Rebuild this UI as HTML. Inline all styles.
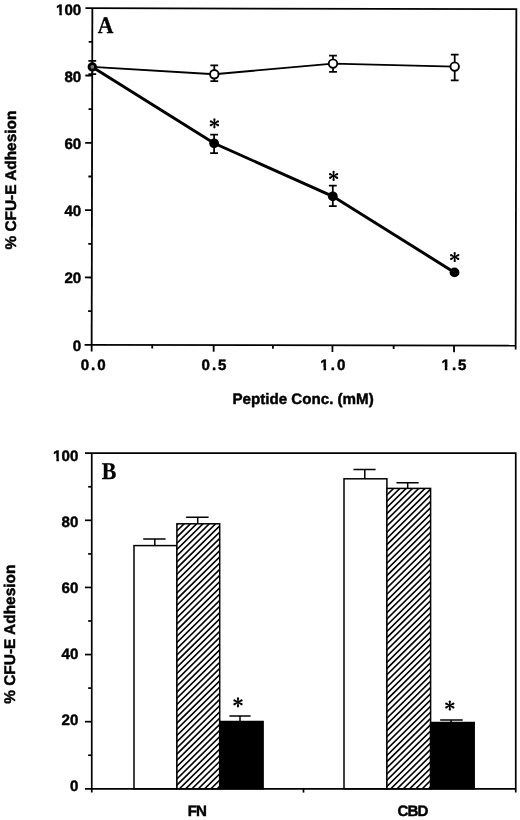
<!DOCTYPE html>
<html><head><meta charset="utf-8"><title>Figure</title>
<style>html,body{margin:0;padding:0;background:#fff;}svg{display:block;}text{font-family:"Liberation Sans",sans-serif;font-weight:bold;fill:#000;stroke:#000;stroke-width:0.45px;stroke-linejoin:round;text-rendering:geometricPrecision;}.ser{font-family:"Liberation Serif",serif;font-weight:bold;stroke-width:0.3px;}.ast{font-family:"Liberation Serif",serif;font-weight:normal;}</style></head><body>
<svg width="520" height="820" viewBox="0 0 520 820">
<defs><pattern id="hatch" width="3.56" height="3.56" patternUnits="userSpaceOnUse" patternTransform="rotate(-41.3)"><rect x="0" y="0" width="3.56" height="3.56" fill="#fff"/><rect x="0" y="0" width="3.56" height="1.7" fill="#000"/></pattern></defs>
<defs><g id="ast" fill="#000" stroke="none"><path d="M-0.5 0 L-1.0 -3.4 A1.15 1.15 0 1 1 1.0 -3.4 L0.5 0 Z" transform="rotate(0)"/><path d="M-0.5 0 L-1.0 -3.4 A1.15 1.15 0 1 1 1.0 -3.4 L0.5 0 Z" transform="rotate(62)"/><path d="M-0.5 0 L-1.0 -3.4 A1.15 1.15 0 1 1 1.0 -3.4 L0.5 0 Z" transform="rotate(118)"/><path d="M-0.5 0 L-1.0 -3.4 A1.15 1.15 0 1 1 1.0 -3.4 L0.5 0 Z" transform="rotate(180)"/><path d="M-0.5 0 L-1.0 -3.4 A1.15 1.15 0 1 1 1.0 -3.4 L0.5 0 Z" transform="rotate(242)"/><path d="M-0.5 0 L-1.0 -3.4 A1.15 1.15 0 1 1 1.0 -3.4 L0.5 0 Z" transform="rotate(298)"/><circle r="1.0"/></g></defs>
<rect x="0" y="0" width="520" height="820" fill="#fff"/>
<filter id="soft" x="0" y="0" width="520" height="820" filterUnits="userSpaceOnUse"><feGaussianBlur stdDeviation="0.45"/></filter>
<g filter="url(#soft)">
<rect x="0" y="0" width="520" height="820" fill="#fff"/>
<g id="panelA" stroke="#000" stroke-width="1.80" fill="none" stroke-linecap="butt" transform="rotate(0.12 304 177)">
<path d="M85.10 8.65 H516.00 V349.05"/>
<path d="M92.00 8.65 V351.95"/>
<path d="M85.00 345.25 H516.00"/>
<path d="M85.10 277.93 H92.00"/>
<path d="M85.10 210.61 H92.00"/>
<path d="M85.10 143.29 H92.00"/>
<path d="M85.10 75.97 H92.00"/>
<path d="M88.40 311.59 H92.00"/>
<path d="M88.40 244.27 H92.00"/>
<path d="M88.40 176.95 H92.00"/>
<path d="M88.40 109.63 H92.00"/>
<path d="M88.40 42.31 H92.00"/>
<path d="M214.00 345.25 V351.95"/>
<path d="M332.80 345.25 V351.95"/>
<path d="M454.40 345.25 V351.95"/>
<path d="M152.57 345.25 V348.85"/>
<path d="M273.30 345.25 V348.85"/>
<path d="M394.03 345.25 V348.85"/>
</g>
<text x="81.2" y="350.70" font-size="15.1" text-anchor="end">0</text>
<text x="81.2" y="283.48" font-size="15.1" text-anchor="end">20</text>
<text x="81.2" y="216.26" font-size="15.1" text-anchor="end">40</text>
<text x="81.2" y="149.04" font-size="15.1" text-anchor="end">60</text>
<text x="81.2" y="81.82" font-size="15.1" text-anchor="end">80</text>
<text x="81.2" y="14.60" font-size="15.1" text-anchor="end">100</text>
<path fill="#fff" stroke="none" d="M55.66 11.46H59.28V15.90H55.66Z M61.85 11.46H64.83V15.90H61.85Z"/>
<text x="80.70" y="370.45" font-size="15.1" letter-spacing="2.0">0.0</text>
<text x="201.50" y="370.45" font-size="15.1" letter-spacing="2.0">0.5</text>
<text x="320.30" y="370.45" font-size="15.1" letter-spacing="2.0">1.0</text>
<path fill="#fff" stroke="none" d="M319.96 367.31H323.58V371.75H319.96Z M326.15 367.31H329.13V371.75H326.15Z"/>
<text x="441.50" y="370.45" font-size="15.1" letter-spacing="2.0">1.5</text>
<path fill="#fff" stroke="none" d="M441.16 367.31H444.78V371.75H441.16Z M447.35 367.31H450.33V371.75H447.35Z"/>
<text x="232.4" y="403.8" font-size="15.15">Peptide Conc. (mM)</text>
<text transform="translate(15.7 249.5) rotate(-90)" font-size="15.4">% CFU-E Adhesion</text>
<text class="ser" transform="translate(97.7 33) scale(0.91 1)" font-size="23.8">A</text>
<g stroke="#000" fill="none">
<path stroke-width="1.75" d="M92.30 60.80 V74.20 M88.40 60.80 H96.20 M88.40 74.20 H96.20"/>
<path stroke-width="1.75" d="M214.30 65.40 V81.00 M210.40 65.40 H218.20 M210.40 81.00 H218.20"/>
<path stroke-width="1.75" d="M333.00 55.70 V71.90 M329.10 55.70 H336.90 M329.10 71.90 H336.90"/>
<path stroke-width="1.75" d="M454.70 54.50 V80.40 M450.80 54.50 H458.60 M450.80 80.40 H458.60"/>
<path stroke-width="1.75" d="M214.10 134.60 V153.20 M210.20 134.60 H218.00 M210.20 153.20 H218.00"/>
<path stroke-width="1.75" d="M332.80 185.60 V206.20 M328.90 185.60 H336.70 M328.90 206.20 H336.70"/>
<polyline stroke-width="1.9" points="92.30,66.90 214.30,74.20 333.00,63.60 454.70,66.60"/>
<polyline stroke-width="2.95" points="92.30,66.90 214.10,143.30 332.80,196.30 454.50,272.40"/>
<circle cx="214.30" cy="74.20" r="4.25" fill="#fff" stroke-width="1.9"/>
<circle cx="333.00" cy="63.60" r="4.25" fill="#fff" stroke-width="1.9"/>
<circle cx="454.70" cy="66.60" r="4.25" fill="#fff" stroke-width="1.9"/>
<circle cx="214.10" cy="143.30" r="4.9" fill="#000" stroke="none"/>
<circle cx="332.80" cy="196.30" r="4.9" fill="#000" stroke="none"/>
<circle cx="454.50" cy="272.40" r="4.9" fill="#000" stroke="none"/>
<circle cx="92.3" cy="66.9" r="3.3" fill="#777" stroke-width="2.8"/>
</g>
<use href="#ast" x="214.40" y="123.30"/>
<use href="#ast" x="333.60" y="175.90"/>
<use href="#ast" x="454.70" y="257.00"/>
<use href="#ast" x="238.00" y="702.30"/>
<use href="#ast" x="449.80" y="705.50"/>
<g id="panelB" stroke="#000" stroke-width="1.50" fill="none">
<rect x="134.00" y="545.60" width="42.90" height="243.20" fill="#fff"/>
<clipPath id="cb1"><rect x="176.90" y="523.80" width="42.80" height="265.00"/></clipPath>
<rect x="176.90" y="523.80" width="42.80" height="265.00" fill="#fff" stroke="none"/>
<path clip-path="url(#cb1)" stroke-width="1.60" d="M175.90 525.66 L220.70 481.54 M175.90 531.86 L220.70 487.74 M175.90 538.06 L220.70 493.94 M175.90 544.26 L220.70 500.14 M175.90 550.46 L220.70 506.34 M175.90 556.66 L220.70 512.54 M175.90 562.86 L220.70 518.74 M175.90 569.06 L220.70 524.94 M175.90 575.26 L220.70 531.14 M175.90 581.46 L220.70 537.34 M175.90 587.66 L220.70 543.54 M175.90 593.86 L220.70 549.74 M175.90 600.06 L220.70 555.94 M175.90 606.26 L220.70 562.14 M175.90 612.46 L220.70 568.34 M175.90 618.66 L220.70 574.54 M175.90 624.86 L220.70 580.74 M175.90 631.06 L220.70 586.94 M175.90 637.26 L220.70 593.14 M175.90 643.46 L220.70 599.34 M175.90 649.66 L220.70 605.54 M175.90 655.86 L220.70 611.74 M175.90 662.06 L220.70 617.94 M175.90 668.26 L220.70 624.14 M175.90 674.46 L220.70 630.34 M175.90 680.66 L220.70 636.54 M175.90 686.86 L220.70 642.74 M175.90 693.06 L220.70 648.94 M175.90 699.26 L220.70 655.14 M175.90 705.46 L220.70 661.34 M175.90 711.66 L220.70 667.54 M175.90 717.86 L220.70 673.74 M175.90 724.06 L220.70 679.94 M175.90 730.26 L220.70 686.14 M175.90 736.46 L220.70 692.34 M175.90 742.66 L220.70 698.54 M175.90 748.86 L220.70 704.74 M175.90 755.06 L220.70 710.94 M175.90 761.26 L220.70 717.14 M175.90 767.46 L220.70 723.34 M175.90 773.66 L220.70 729.54 M175.90 779.86 L220.70 735.74 M175.90 786.06 L220.70 741.94 M175.90 792.26 L220.70 748.14 M175.90 798.46 L220.70 754.34 M175.90 804.66 L220.70 760.54 M175.90 810.86 L220.70 766.74 M175.90 817.06 L220.70 772.94 M175.90 823.26 L220.70 779.14 M175.90 829.46 L220.70 785.34"/>
<rect x="176.90" y="523.80" width="42.80" height="265.00" fill="none"/>
<rect x="219.70" y="721.50" width="43.40" height="67.30" fill="#000"/>
<rect x="344.00" y="478.80" width="42.90" height="310.00" fill="#fff"/>
<clipPath id="cb4"><rect x="386.90" y="488.40" width="43.70" height="300.40"/></clipPath>
<rect x="386.90" y="488.40" width="43.70" height="300.40" fill="#fff" stroke="none"/>
<path clip-path="url(#cb4)" stroke-width="1.60" d="M385.90 495.99 L431.60 450.97 M385.90 502.19 L431.60 457.17 M385.90 508.39 L431.60 463.37 M385.90 514.59 L431.60 469.57 M385.90 520.79 L431.60 475.77 M385.90 526.99 L431.60 481.97 M385.90 533.19 L431.60 488.17 M385.90 539.39 L431.60 494.37 M385.90 545.59 L431.60 500.57 M385.90 551.79 L431.60 506.77 M385.90 557.99 L431.60 512.97 M385.90 564.19 L431.60 519.17 M385.90 570.39 L431.60 525.37 M385.90 576.59 L431.60 531.57 M385.90 582.79 L431.60 537.77 M385.90 588.99 L431.60 543.97 M385.90 595.19 L431.60 550.17 M385.90 601.39 L431.60 556.37 M385.90 607.59 L431.60 562.57 M385.90 613.79 L431.60 568.77 M385.90 619.99 L431.60 574.97 M385.90 626.19 L431.60 581.17 M385.90 632.39 L431.60 587.37 M385.90 638.59 L431.60 593.57 M385.90 644.79 L431.60 599.77 M385.90 650.99 L431.60 605.97 M385.90 657.19 L431.60 612.17 M385.90 663.39 L431.60 618.37 M385.90 669.59 L431.60 624.57 M385.90 675.79 L431.60 630.77 M385.90 681.99 L431.60 636.97 M385.90 688.19 L431.60 643.17 M385.90 694.39 L431.60 649.37 M385.90 700.59 L431.60 655.57 M385.90 706.79 L431.60 661.77 M385.90 712.99 L431.60 667.97 M385.90 719.19 L431.60 674.17 M385.90 725.39 L431.60 680.37 M385.90 731.59 L431.60 686.57 M385.90 737.79 L431.60 692.77 M385.90 743.99 L431.60 698.97 M385.90 750.19 L431.60 705.17 M385.90 756.39 L431.60 711.37 M385.90 762.59 L431.60 717.57 M385.90 768.79 L431.60 723.77 M385.90 774.99 L431.60 729.97 M385.90 781.19 L431.60 736.17 M385.90 787.39 L431.60 742.37 M385.90 793.59 L431.60 748.57 M385.90 799.79 L431.60 754.77 M385.90 805.99 L431.60 760.97 M385.90 812.19 L431.60 767.17 M385.90 818.39 L431.60 773.37 M385.90 824.59 L431.60 779.57 M385.90 830.79 L431.60 785.77"/>
<rect x="386.90" y="488.40" width="43.70" height="300.40" fill="none"/>
<rect x="430.60" y="722.50" width="43.60" height="66.30" fill="#000"/>
<path d="M154.80 545.60 V539.00 M143.20 539.00 H165.60"/>
<path d="M197.70 523.80 V517.30 M186.10 517.30 H208.60"/>
<path d="M240.00 721.50 V715.90 M229.40 715.90 H250.60"/>
<path d="M364.80 478.80 V469.40 M353.50 469.40 H375.60"/>
<path d="M407.70 488.40 V482.70 M396.50 482.70 H418.60"/>
<path d="M451.10 722.50 V720.00 M440.20 720.00 H462.70"/>
<g stroke-width="1.7">
<path d="M84.95 453.20 H515.75 V792.60"/>
<path d="M91.75 453.20 V792.40"/>
<path d="M84.95 788.80 H515.75"/>
<path d="M84.95 721.68 H91.75"/>
<path d="M84.95 654.56 H91.75"/>
<path d="M84.95 587.44 H91.75"/>
<path d="M84.95 520.32 H91.75"/>
<path d="M88.15 755.24 H91.75"/>
<path d="M88.15 688.12 H91.75"/>
<path d="M88.15 621.00 H91.75"/>
<path d="M88.15 553.88 H91.75"/>
<path d="M88.15 486.76 H91.75"/>
<path d="M303.5 788.80 V792.60"/>
</g>
</g>
<text x="78.3" y="791.40" font-size="15.1" text-anchor="end">0</text>
<text x="78.3" y="725.32" font-size="15.1" text-anchor="end">20</text>
<text x="78.3" y="659.24" font-size="15.1" text-anchor="end">40</text>
<text x="78.3" y="593.16" font-size="15.1" text-anchor="end">60</text>
<text x="78.3" y="527.08" font-size="15.1" text-anchor="end">80</text>
<text x="78.3" y="461.00" font-size="15.1" text-anchor="end">100</text>
<path fill="#fff" stroke="none" d="M52.76 457.86H56.38V462.30H52.76Z M58.95 457.86H61.93V462.30H58.95Z"/>
<text x="196.9" y="815.6" font-size="15.1" text-anchor="middle" letter-spacing="-0.9">FN</text>
<text x="412.5" y="815.9" font-size="15.1" text-anchor="middle" letter-spacing="-0.9">CBD</text>
<text transform="translate(15.2 703.8) rotate(-90)" font-size="15.45">% CFU-E Adhesion</text>
<text class="ser" transform="translate(101.7 479.4) scale(0.91 1)" font-size="24">B</text>
</g>
</svg></body></html>
